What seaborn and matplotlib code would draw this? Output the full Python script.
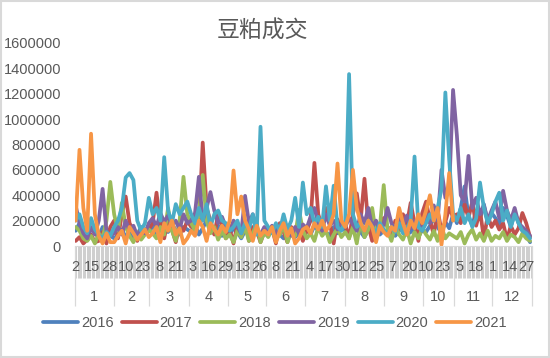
import numpy as np
import pandas as pd
import seaborn as sns
import matplotlib.pyplot as plt
from matplotlib.lines import Line2D
from matplotlib.patches import Rectangle

# series, one value every 3rd trading day, in thousands of lots
years = ['2016', '2017', '2018', '2019', '2020', '2021']
colors = ['#4F81BD', '#C0504D', '#9BBB59', '#8064A2', '#4BACC6', '#F79646']

vol_2016 = [120, 180, 90, 60, 140, 100, 70, 150, 110, 80,
            60, 90, 130, 70, 110, 60, 90, 150, 100, 120,
            160, 90, 200, 140, 110, 180, 120, 90, 150, 130,
            110, 170, 90, 140, 200, 120, 100, 160, 80, 130,
            90, 140, 110, 60, 120, 170, 90, 130, 70, 100,
            80, 120, 150, 90, 60, 110, 140, 70, 100, 120,
            130, 90, 160, 120, 200, 110, 80, 150, 100, 170,
            120, 90, 140, 180, 110, 70, 130, 100, 160, 90, 120,
            100, 150, 80, 120, 170, 90, 110, 140, 70, 130,
            110, 160, 220, 150, 100, 190, 140, 250,
            180, 300, 470, 230, 160, 280, 210, 330, 190, 260,
            220, 170, 300, 240, 150, 260, 190, 120, 90, 30]
vol_2017 = [40, 70, 20, 50, 90, 30, 40, 110, 20, 150,
            200, 60, 250, 390, 180, 120, 40, 140, 100, 130,
            180, 420, 160, 60, 220, 130, 30, 170, 120, 200,
            150, 240, 180, 815, 300, 200, 90, 250, 160, 60,
            130, 20, 170, 110, 200, 40, 150, 120, 30, 110,
            90, 140, 20, 180, 110, 30, 150, 100, 130, 40,
            120, 200, 655, 250, 150, 300, 180, 20, 210, 140,
            170, 60, 250, 415, 200, 530, 160, 40, 190, 130, 220,
            150, 60, 200, 130, 250, 170, 340, 180, 40, 260,
            350, 200, 90, 280, 120, 190, 300, 230,
            250, 180, 330, 220, 350, 160, 280, 60, 240, 150,
            200, 130, 180, 50, 160, 90, 140, 260, 180, 70]
vol_2018 = [150, 120, 60, 40, 80, 20, 100, 60, 200, 505,
            250, 120, 340, 150, 80, 30, 110, 50, 90, 130,
            100, 60, 150, 90, 300, 120, 40, 200, 545, 250,
            180, 120, 250, 560, 200, 100, 150, 50, 120, 60,
            90, 30, 120, 70, 150, 40, 100, 180, 30, 110,
            70, 130, 50, 90, 160, 30, 110, 80, 285, 120,
            60, 100, 40, 150, 80, 120, 30, 90, 140, 70,
            110, 60, 150, 20, 200, 70, 130, 300, 90, 150, 480,
            120, 40, 160, 90, 50, 130, 20, 110, 60, 140,
            90, 50, 120, 40, 150, 60, 100, 80,
            60, 110, 20, 90, 130, 50, 100, 40, 120, 40,
            80, 60, 110, 40, 90, 70, 30, 100, 60, 40]
vol_2019 = [320, 180, 100, 60, 150, 90, 200, 450, 120, 80,
            100, 150, 90, 200, 120, 160, 80, 130, 100, 180,
            220, 150, 260, 190, 240, 160, 200, 130, 250, 180,
            200, 260, 545, 200, 300, 425, 280, 180, 230, 150,
            120, 200, 150, 100, 395, 180, 250, 130, 90, 150,
            110, 160, 90, 130, 200, 120, 80, 150, 100, 170,
            140, 230, 300, 180, 120, 250, 160, 200, 130, 180,
            150, 220, 170, 120, 250, 180, 300, 150, 200, 110, 170,
            300, 180, 130, 220, 160, 240, 140, 200, 170, 120,
            250, 180, 320, 200, 600, 380, 450, 1230,
            870, 400, 350, 710, 300, 380, 250, 320, 200, 280,
            350, 220, 435, 280, 200, 300, 180, 150, 120, 80]
vol_2020 = [200, 250, 150, 100, 220, 130, 90, 60, 110, 80,
            150, 200, 300, 540, 575, 520, 200, 120, 180, 380,
            250, 300, 200, 700, 280, 180, 330, 250, 300, 350,
            250, 180, 300, 200, 330, 150, 250, 280, 200, 180,
            120, 150, 200, 100, 180, 130, 250, 90, 940, 200,
            150, 100, 180, 120, 250, 130, 200, 380, 150, 500,
            250, 300, 180, 230, 150, 470, 200, 475, 150, 120,
            200, 1355, 250, 150, 180, 120, 200, 150, 100, 180, 130,
            90, 150, 110, 180, 100, 140, 200, 705, 150, 120,
            180, 250, 200, 300, 450, 1210, 680, 250,
            200, 300, 180, 250, 150, 220, 500, 300, 180, 250,
            350, 420, 200, 280, 150, 250, 180, 120, 100, 60]
vol_2021 = [200, 758, 300, 120, 885, 250, 80, 20, 100, 30,
            30, 80, 120, 20, 150, 100, 50, 90, 130, 70,
            100, 150, 30, 180, 120, 200, 90, 140, 20, 60,
            120, 80, 200, 150, 40, 180, 130, 90, 160, 110,
            200, 595, 250, 390, 200, 130, 40, 160, 80, 120,
            90, 150, 30, 120, 180, 80, 140, 20, 60, 130,
            150, 100, 180, 130, 200, 120, 160, 250, 650, 200,
            150, 250, 600, 300, 180, 120, 200, 150, 30, 160, 110,
            80, 150, 120, 300, 180, 90, 200, 140, 250, 180,
            280, 400, 200, 300, 10, 250, 575, 200]
series = [vol_2016, vol_2017, vol_2018, vol_2019, vol_2020, vol_2021]

# category axis: month / day, exchange closed on these dates
month_len = [31, 28, 31, 30, 31, 30, 31, 31, 30, 31, 30, 31]
closed = [(1, 1), (5, 1)] + [(10, d) for d in range(1, 8)]
cats = [(m, d) for m in range(1, 13) for d in range(1, month_len[m - 1] + 1)
        if (m, d) not in closed]
n_cat = len(cats)
step = 3
label_every = 13

rows = []
for yr, vals in zip(years, series):
    for i, v in enumerate(vals):
        rows.append({'pos': i * step, 'volume': v * 1000, 'year': yr})
df = pd.DataFrame(rows)

sns.set_style('white')
plt.rcParams['font.family'] = ['Liberation Sans', 'Noto Sans CJK SC', 'DejaVu Sans']
txt = '#595959'

fig = plt.figure(figsize=(5.5, 3.58), dpi=100)
ax = fig.add_axes([75 / 550, 1 - 246 / 358, 457 / 550, 203 / 358])

sns.lineplot(data=df, x='pos', y='volume', hue='year', hue_order=years,
             palette=colors, linewidth=2.7, estimator=None, sort=False,
             legend=False, ax=ax, solid_joinstyle='round', solid_capstyle='round')

ax.set_xlim(-0.5, n_cat - 0.5)
ax.set_ylim(0, 1600000)
ax.set_yticks(np.arange(0, 1600001, 200000))
ax.set_yticklabels([str(v) for v in range(0, 1600001, 200000)], fontsize=10.5, color=txt)
ax.tick_params(axis='y', length=0, pad=10)
ax.set_xlabel('')
ax.set_ylabel('')
for s in ['top', 'right', 'left']:
    ax.spines[s].set_visible(False)
ax.spines['bottom'].set_color('#D9D9D9')

# tick band between every category, longer ticks at month borders
month_start = [i for i, (m, d) in enumerate(cats) if i == 0 or cats[i - 1][0] != m]
ax.set_xticks(np.arange(n_cat + 1) - 0.5, minor=True)
ax.set_xticks([i - 0.5 for i in month_start] + [n_cat - 0.5])
ax.set_xticklabels([])
ax.tick_params(axis='x', which='both', bottom=True, labelbottom=False)
ax.tick_params(axis='x', which='minor', length=23, width=0.75, color='#CFCFCF')
ax.tick_params(axis='x', which='major', length=43, width=0.9, color='#D9D9D9')

xt = ax.get_xaxis_transform()
for i in range(0, n_cat, label_every):
    ax.text(i, -21 / 203, str(cats[i][1]), transform=xt, ha='center', va='center',
            fontsize=10.5, color=txt)
bounds = month_start + [n_cat]
for k in range(12):
    mid = (bounds[k] + bounds[k + 1] - 1) / 2
    ax.text(mid, -51 / 203, str(k + 1), transform=xt, ha='center', va='center',
            fontsize=10.5, color=txt)

fig.text(0.477, 1 - 31 / 358, '豆粕成交', ha='center', va='center', fontsize=16.5,
         color=txt, family=['Noto Sans CJK SC', 'DejaVu Sans'], fontweight='light')

handles = [Line2D([], [], color=c, lw=2.7) for c in colors]
fig.legend(handles, years, loc='center', bbox_to_anchor=(0.5, 1 - 323 / 358), ncol=6,
           frameon=False, fontsize=10.5, handlelength=2.4, handletextpad=0.2,
           columnspacing=0.55, labelcolor=txt)

fig.patches.append(Rectangle((0.001, 0.002), 0.997, 0.995, transform=fig.transFigure,
                             fill=False, edgecolor='#D9D9D9', linewidth=1.5))

fig.savefig('out.png', dpi=100)
